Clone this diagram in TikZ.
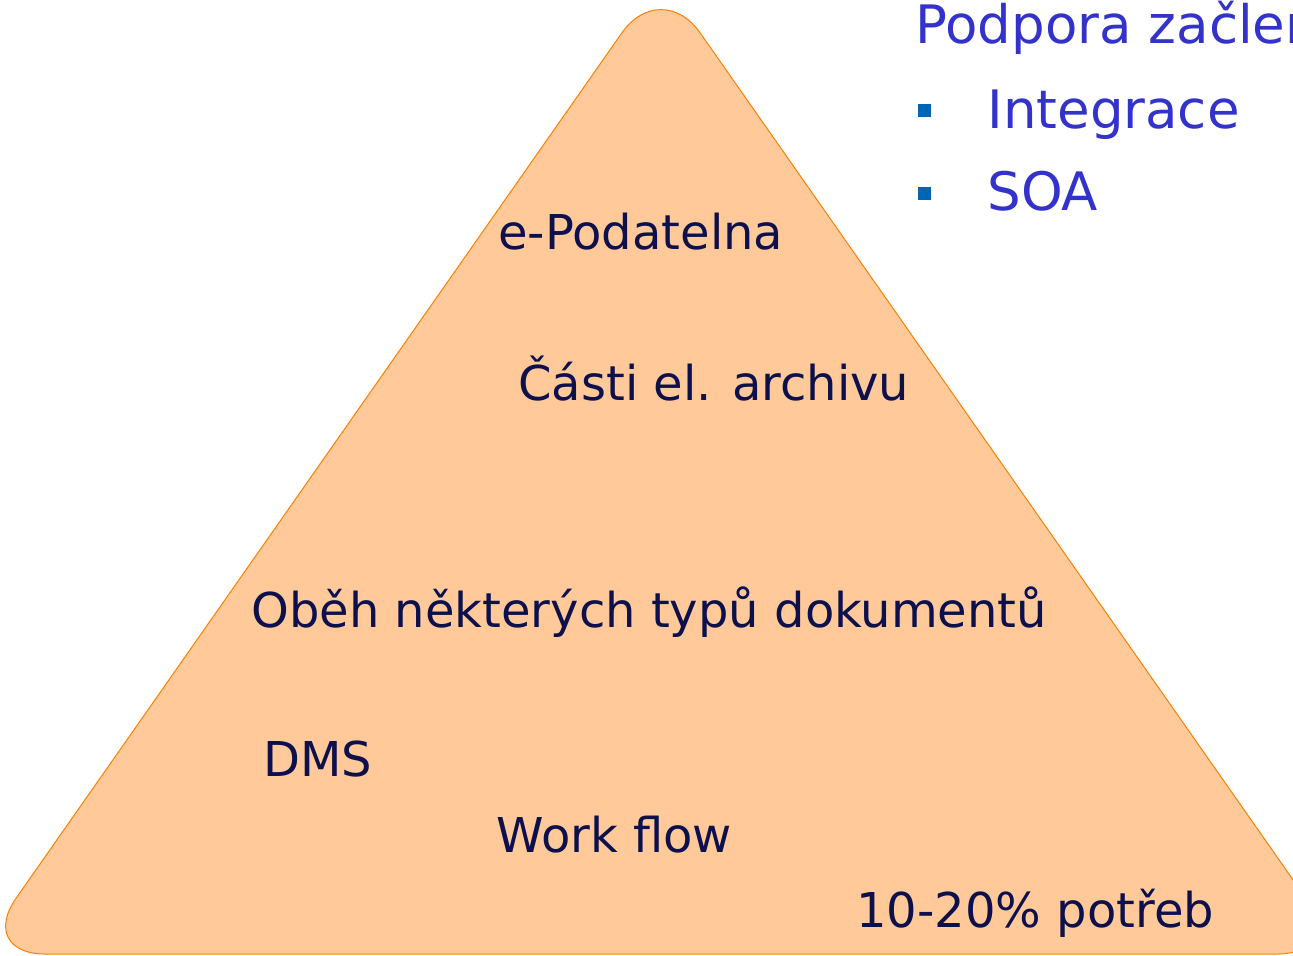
\documentclass[tikz,border=0pt]{standalone}
\usepackage{fontspec}
\setmainfont{DejaVu Sans}
\usetikzlibrary{shapes}
\definecolor{peach}{RGB}{255,201,153}
\definecolor{rim}{RGB}{255,128,0}
\definecolor{navy}{RGB}{12,16,76}
\definecolor{title}{RGB}{51,51,204}
\definecolor{dot}{RGB}{0,102,179}
\tikzset{
  lbl/.style={anchor=base west,inner sep=0pt,text=navy,font=\fontsize{24}{28}\selectfont},
  blu/.style={anchor=base west,inner sep=0pt,text=title,font=\fontsize{26.5}{31}\selectfont},
  sq/.style={fill=dot,inner sep=0pt,minimum size=6.5pt}
}
\begin{document}
\begin{tikzpicture}[x=0.5pt,y=-0.5pt]
\useasboundingbox (0,0) rectangle (1293,955);
\clip (0,0) rectangle (1293,955);
\draw[rim,fill=peach,line width=0.5pt,rounded corners=34pt]
    (-23,954) -- (661,-23) -- (1345,954) -- cycle;
\node[lbl] (epod) at (498,249) {e-Podatelna};
\node[lbl] (casti) at (518,400) {Části el. archivu};
\node[lbl] (obeh) at (251,627) {Oběh některých typů dokumentů};
\node[lbl] (dms) at (263,776) {DMS};
\node[lbl] (wflow) at (496,852) {Work flow};
\node[lbl] (potreb) at (856,927) {10-20\% potřeb};
\node[blu] (podpora) at (915,43) {Podpora začlen};
\node[sq] (b1) at (924.5,110.5) {};
\node[blu] (integ) at (987,128) {Integrace};
\node[sq] (b2) at (924.5,193.5) {};
\node[blu] (soa) at (987,210) {SOA};
\end{tikzpicture}
\end{document}
